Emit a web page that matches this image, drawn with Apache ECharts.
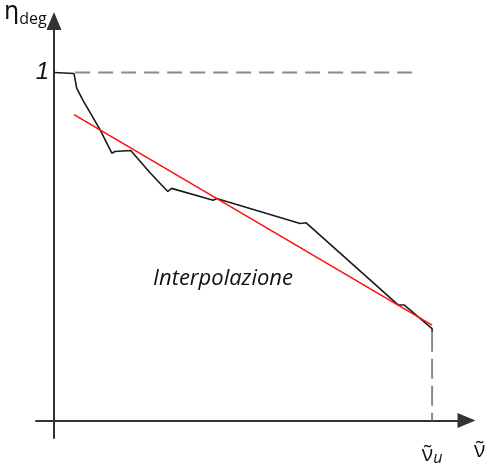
<!DOCTYPE html>
<html>
<head>
<meta charset="utf-8">
<script src="https://cdn.jsdelivr.net/npm/echarts@6/dist/echarts.min.js"></script>
<style>html,body{margin:0;padding:0;background:#fff}#c{width:487px;height:466px}</style>
</head>
<body>
<div id="c"></div>
<script>
// Normalized coordinates: x = ν̃ / ν̃u, y = η_deg
var curveX = [0, 0.053, 0.060, 0.077, 0.103, 0.122, 0.153, 0.161, 0.203, 0.254, 0.301, 0.311, 0.421, 0.430, 0.651, 0.667, 0.910, 0.926, 1.0, 1.0];
var curveY = [1.0, 0.997, 0.955, 0.919, 0.871, 0.835, 0.768, 0.773, 0.776, 0.712, 0.658, 0.667, 0.633, 0.638, 0.566, 0.568, 0.332, 0.332, 0.264, 0.255];
var fitX = [0.053, 1.0];
var fitY = [0.879, 0.274];
var refHX = [0.056, 0.952];
var refHY = [1, 1];
var refVX = [1, 1];
var refVY = [0.255, 0];
var yTicks = [1];
var xTicks = [1];

function zip(a, b) { return a.map(function (v, i) { return [v, b[i]]; }); }

var chart = echarts.init(document.getElementById('c'));
var axisColor = '#333';
chart.setOption({
  animation: false,
  grid: { left: 36, right: 20.5, top: 21, bottom: 17 },
  xAxis: {
    type: 'value', min: -0.0476, max: 1.091,
    splitLine: { show: false },
    axisTick: { show: false },
    axisLine: { onZero: true, lineStyle: { color: axisColor, width: 2 }, symbol: ['none', 'triangle'], symbolSize: [15, 18] },
    axisLabel: {
      customValues: xTicks, margin: 6,
      formatter: function () { return '{v|\u03BD\u0303}{s|u}'; },
      rich: {
        v: { fontFamily: 'Open Sans', fontSize: 21, color: '#111' },
        s: { fontFamily: 'Open Sans', fontStyle: 'italic', fontSize: 16, color: '#111', padding: [6, 0, 0, 0] }
      }
    }
  },
  yAxis: {
    type: 'value', min: -0.0504, max: 1.148,
    splitLine: { show: false },
    axisTick: { show: false },
    axisLine: { onZero: true, lineStyle: { color: axisColor, width: 2 }, symbol: ['none', 'triangle'], symbolSize: [15, 18] },
    axisLabel: {
      customValues: yTicks, margin: -13,
      fontFamily: 'Liberation Sans', fontStyle: 'italic', fontSize: 24, color: '#111'
    }
  },
  series: [
    { type: 'line', data: zip(refHX, refHY), symbol: 'none', silent: true,
      lineStyle: { color: '#8a8a8a', width: 2, type: [15, 8] } },
    { type: 'line', data: zip(refVX, refVY), symbol: 'none', silent: true,
      lineStyle: { color: '#8a8a8a', width: 2, type: [20, 7] } },
    { type: 'line', data: zip(curveX, curveY), symbol: 'none', silent: true,
      lineStyle: { color: '#1a1a1a', width: 1.6 } },
    { type: 'line', data: zip(fitX, fitY), symbol: 'none', silent: true,
      lineStyle: { color: '#ff1010', width: 1.6 } }
  ],
  graphic: [
    { type: 'text', left: 4, top: 1, style: {
      text: '{e|\u03B7}{d|deg}',
      rich: {
        e: { fontFamily: 'DejaVu Sans', fontSize: 24, fill: '#111' },
        d: { fontFamily: 'Open Sans', fontSize: 16, fill: '#111', padding: [13, 0, 0, 0] }
      } } },
    { type: 'text', left: 474, top: 441, style: { text: '\u03BD\u0303', fontFamily: 'Open Sans', fontSize: 21, fill: '#111' } },
    { type: 'text', left: 153, top: 268, style: { text: 'Interpolazione', fontFamily: 'Open Sans', fontStyle: 'italic', fontSize: 22, fill: '#111' } }
  ]
});
</script>
</body>
</html>
